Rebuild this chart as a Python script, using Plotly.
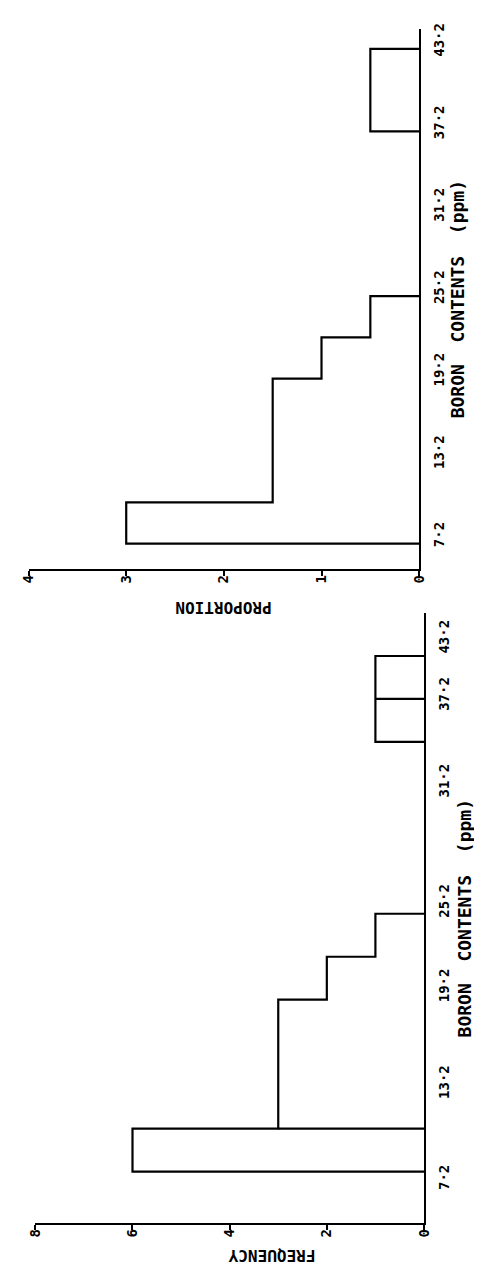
import plotly.graph_objects as go

# ---------------- data ----------------
# histogram bins of boron content (ppm), width 3
bin_edges = [6.7, 9.7, 12.7, 15.7, 18.7, 21.7, 24.7, 27.7, 30.7, 33.7, 36.7, 39.7, 42.7]
frequency = [6, 3, 3, 3, 2, 1, 0, 0, 0, 0, 1, 1]
proportion = [3, 1.5, 1.5, 1.5, 1, 0.5, 0, 0, 0, 0, 0.5, 0.5]
# bin edges where the drawing carries a dividing line down to the axis
freq_dividers = [9.7, 39.7]
prop_dividers = []

boron_tick_labels = ["7·2", "13·2", "19·2", "25·2", "31·2", "37·2", "43·2"]
prop_boron_ticks = [7.2, 13.2, 19.2, 25.2, 31.2, 37.2, 43.2]
# label positions as lettered on the frequency panel
freq_boron_ticks = [6.15, 12.8, 19.55, 25.45, 33.85, 39.9, 43.9]

prop_value_ticks = [0, 1, 2, 3, 4]
freq_value_ticks = [0, 2, 4, 6, 8]

FONT = "DejaVu Sans Mono"


def step_outline(edges, values, dividers):
    xs, ys = [], []
    n = len(values)
    i = 0
    while i < n:
        if values[i] == 0:
            i += 1
            continue
        xs.append(0); ys.append(edges[i])
        while i < n and values[i] != 0:
            xs += [values[i], values[i]]
            ys += [edges[i], edges[i + 1]]
            i += 1
        xs.append(0); ys.append(edges[i])
        xs.append(None); ys.append(None)
    for d in dividers:
        k = edges.index(d)
        v = min(values[k - 1], values[k])
        xs += [0, v, None]
        ys += [d, d, None]
    return xs, ys


fig = go.Figure()

px_, py_ = step_outline(bin_edges, proportion, prop_dividers)
fig.add_trace(go.Scatter(x=px_, y=py_, mode="lines", xaxis="x", yaxis="y",
                         line=dict(color="black", width=2.2), hoverinfo="skip"))
fx_, fy_ = step_outline(bin_edges, frequency, freq_dividers)
fig.add_trace(go.Scatter(x=fx_, y=fy_, mode="lines", xaxis="x2", yaxis="y2",
                         line=dict(color="black", width=2.2), hoverinfo="skip"))

W, H = 482, 1271
tickfont_val = dict(family=FONT, size=14, color="black", weight="bold")
tickfont_boron = dict(family=FONT, size=14, color="black", weight="bold")
title_font = dict(family=FONT, size=16, color="black", weight="bold")
boron_title_font = dict(family=FONT, size=18, color="black", weight="bold")

common_val = dict(showline=True, linewidth=2.2, linecolor="black", ticks="outside",
                  ticklen=5, tickwidth=2, tickcolor="black", tickangle=-90,
                  showgrid=False, zeroline=False, tickfont=tickfont_val,
                  ticklabelstandoff=-7)
common_boron = dict(showline=True, linewidth=2.2, linecolor="black", ticks="",
                    side="right", tickangle=-90, showgrid=False, zeroline=False,
                    tickfont=tickfont_boron, ticklabelstandoff=6)

BORON_TITLE = "BORON  CONTENTS  (ppm)"
NB = "\u00a0"

fig.update_layout(
    width=W, height=H, margin=dict(l=0, r=0, t=0, b=0),
    paper_bgcolor="white", plot_bgcolor="white", showlegend=False,
    xaxis=dict(domain=[13 / W, 417 / W], range=[4, 0], anchor="y",
               tickvals=prop_value_ticks, **common_val),
    yaxis=dict(domain=[1 - 558 / H, 1 - 15 / H], range=[4.82, 44.15], anchor="x",
               tickvals=prop_boron_ticks, ticktext=boron_tick_labels,
               title=dict(text=BORON_TITLE + NB * 14, font=boron_title_font, standoff=4),
               **common_boron),
    xaxis2=dict(domain=[20 / W, 422 / W], range=[8, 0], anchor="y2",
                tickvals=freq_value_ticks, **common_val),
    yaxis2=dict(domain=[1 - 1215 / H, 1 - 602 / H], range=[3.09, 45.69], anchor="x2",
                tickvals=freq_boron_ticks, ticktext=boron_tick_labels,
                title=dict(text=BORON_TITLE + NB * 2, font=boron_title_font, standoff=8),
                **common_boron),
)

annots = [
    dict(text="PROPORTION", x=215 / W, y=1 - 597 / H, textangle=180),
    dict(text="FREQUENCY", x=265 / W, y=1 - 1248 / H, textangle=180),
]
for a in annots:
    fig.add_annotation(xref="paper", yref="paper", showarrow=False,
                       xanchor="center", yanchor="middle", font=title_font, **a)

fig.write_html("out.html")
